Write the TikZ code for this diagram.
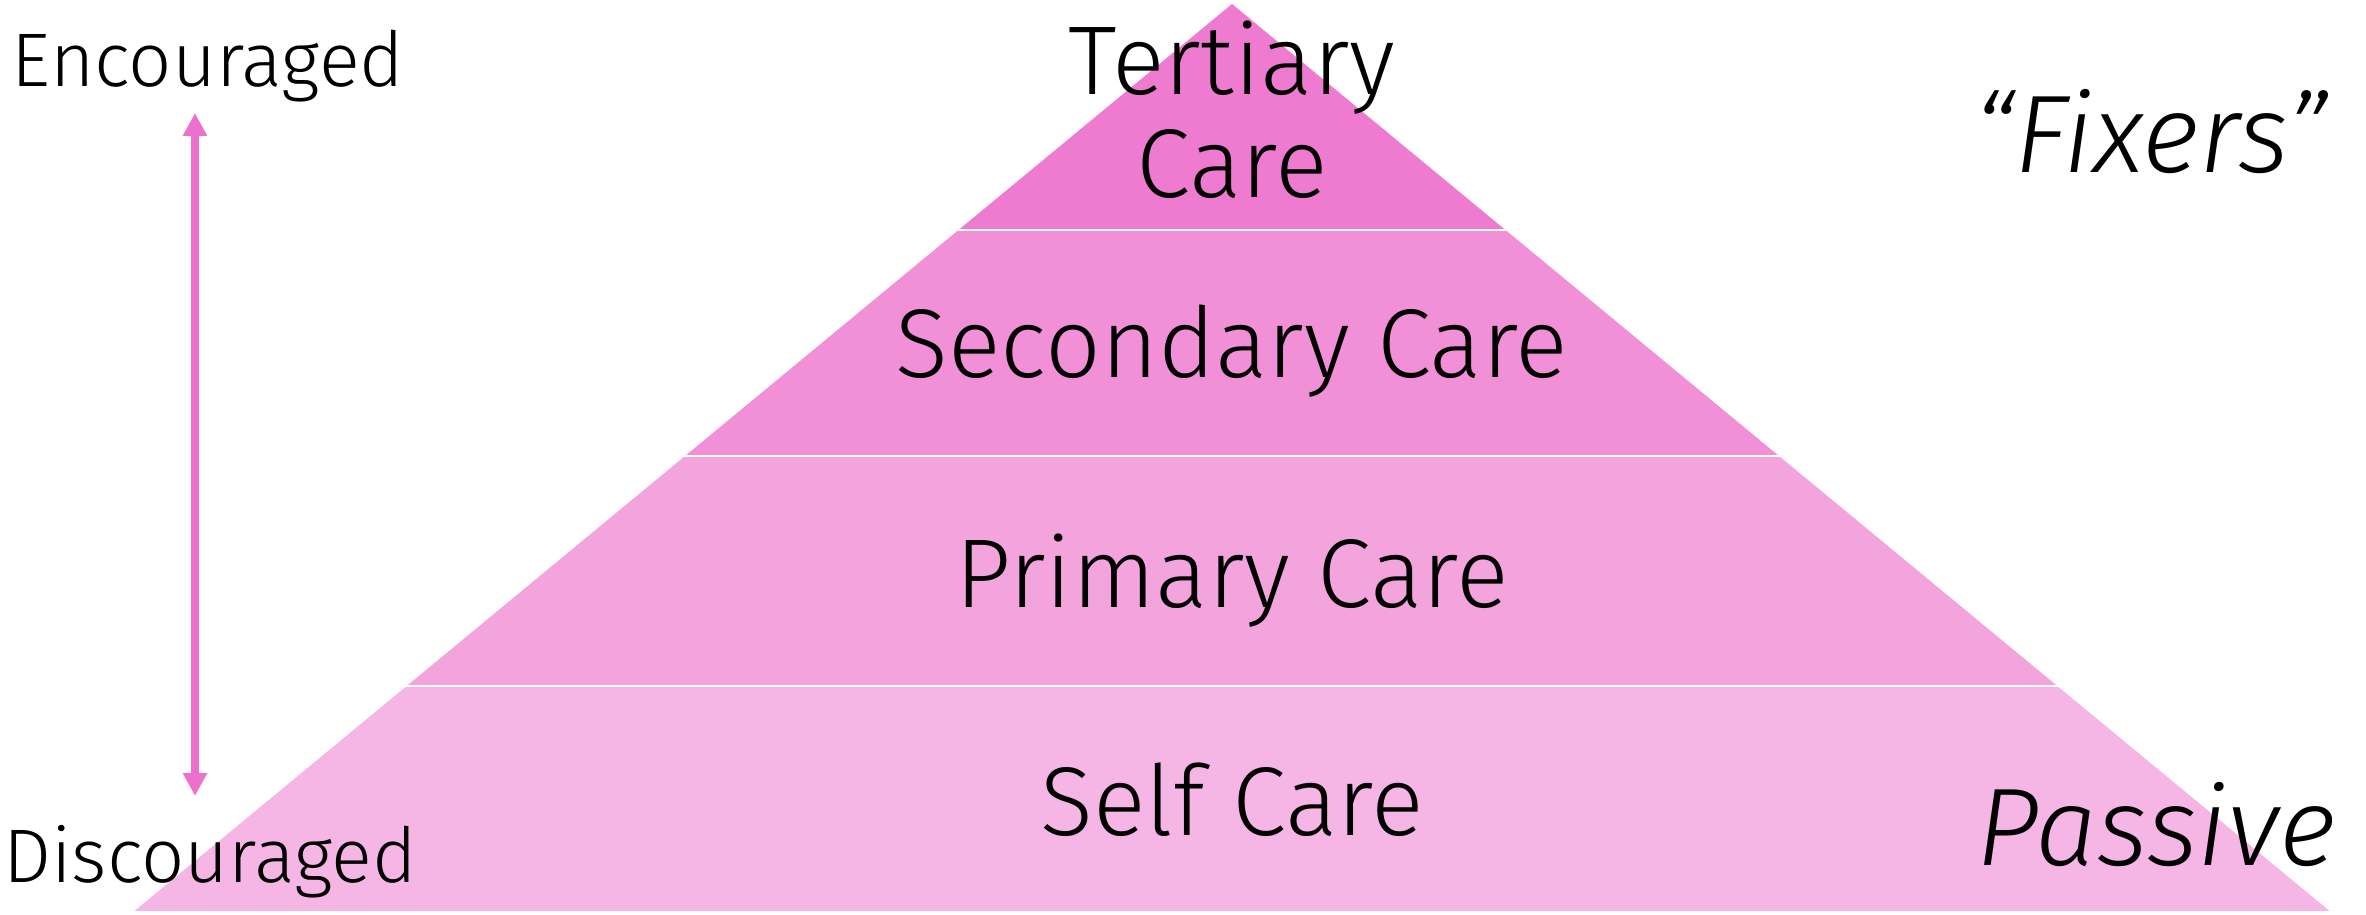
\documentclass[tikz,border=0pt]{standalone}
\usepackage{fontspec}
\setmainfont{Fira Sans}[UprightFont={* Light}, ItalicFont={* Light Italic}]
\usetikzlibrary{arrows.meta}

\definecolor{tertiaryfill}{HTML}{EF7BD0}
\definecolor{secondaryfill}{HTML}{F190D6}
\definecolor{primaryfill}{HTML}{F3A4DD}
\definecolor{selffill}{HTML}{F5B5E5}
\definecolor{arrowpink}{HTML}{EE70CD}

\newcommand*{\bandfont}{\fontsize{27.8}{29.3}\selectfont}
\newcommand*{\sidefont}{\fontsize{21.6}{24}\selectfont}
\newcommand*{\tagfont}{\fontsize{31.4}{34}\selectfont\itshape}
\newcommand{\pyrband}[3]{%
% top y, bottom y, fill colour (apex at 1232,4; half base 1100 over 909)
  \pgfmathsetmacro{\wtop}{1.210121*(#1-4)}
  \pgfmathsetmacro{\wbot}{1.210121*(#2-4)}
  \fill[#3] (1232-\wtop,#1) -- (1232+\wtop,#1)
       -- (1232+\wbot,#2) -- (1232-\wbot,#2) -- cycle;
  \draw[white, line width=0.9pt] (1232-\wbot-2,#2) -- (1232+\wbot+2,#2);
}

\begin{document}
\begin{tikzpicture}[x=0.01cm, y=-0.01cm,
    bandlabel/.style = {font=\bandfont, inner sep=0pt, anchor=base},
    sidelabel/.style = {font=\sidefont, inner sep=0pt, anchor=base},
    taglabel/.style = {font=\tagfont, inner sep=0pt, anchor=base},
    scalearrow/.style = {arrowpink, line width=2.4pt,
      {Triangle[length=6.5pt, width=6.5pt]}-{Triangle[length=6.5pt, width=6.5pt]}}]
  \useasboundingbox (0,0) rectangle (2366,915);

  % pyramid, top band first
  \foreach \ya/\yb/\col in {4/231/tertiaryfill, 231/457/secondaryfill,
      457/687/primaryfill, 687/913/selffill} {
    \pyrband{\ya}{\yb}{\col}
  }

  \node[bandlabel, anchor=center, align=center] (tertiary) at (1232,110) {Tertiary\\Care};
  \node[bandlabel] (secondary) at (1232,377) {Secondary Care};
  \node[bandlabel] (primary) at (1232,607) {Primary Care};
  \node[bandlabel] (self) at (1232,835) {Self Care};

  \node[taglabel] (fixers) at (2151,172) {“Fixers”};
  \node[taglabel] (passive) at (2156,865) {Passive};

  \node[sidelabel] (encouraged) at (208,87) {Encouraged};
  \node[sidelabel] (discouraged) at (210,882) {Discouraged};

  \coordinate (scaletop) at (195,113);
  \coordinate (scalebot) at (195,796);
  \draw[scalearrow] (scalebot) -- (scaletop);
\end{tikzpicture}
\end{document}
